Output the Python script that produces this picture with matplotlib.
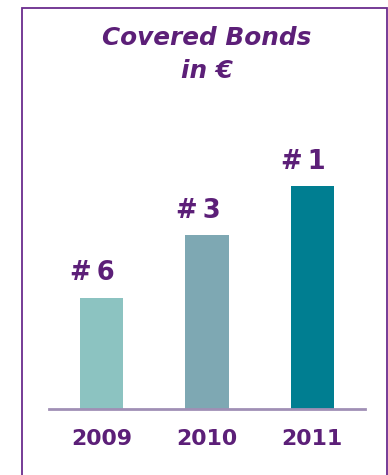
#!/usr/bin/env python3

import matplotlib
matplotlib.use("Agg")
import matplotlib.pyplot as plt
from matplotlib.patches import Rectangle

years = ["2009", "2010", "2011"]
volume = [2.5, 3.9, 5.0]
ranks = ["#\u20096", "#\u20093", "#\u20091"]
bar_colors = ["#8cc3c1", "#7ea8b3", "#007e91"]

purple = "#5c1f78"

W, H = 388, 475
fig = plt.figure(figsize=(W / 100, H / 100), dpi=100)

# frame round the panel (open at the bottom)
fig.patches.append(Rectangle((22 / W, -0.05), (387 - 22) / W, 1.05 - 8 / H,
                             transform=fig.transFigure, fill=False,
                             edgecolor="#6b2c8e", linewidth=1.3))

fig.text(207 / W, 1 - 45 / H, "Covered Bonds", ha="center", va="baseline",
         fontsize=17.8, fontweight="bold", fontstyle="italic", color=purple)
fig.text(207 / W, 1 - 78 / H, "in €", ha="center", va="baseline",
         fontsize=17.8, fontweight="bold", fontstyle="italic", color=purple)

ax = fig.add_axes([49 / W, 1 - 409 / H, (365 - 49) / W, 300 / H])
x = range(len(years))
bars = ax.bar(x, volume, width=0.41, color=bar_colors)
ax.set_xlim(-0.5, 2.5)
ax.set_ylim(0, 300 / 44.6)

for b, r in zip(bars, ranks):
    ax.annotate(r, (b.get_x() + b.get_width() / 2, b.get_height()),
                xytext=(-9, 17), textcoords="offset pixels",
                ha="center", va="baseline", fontsize=18.5,
                fontweight="bold", color=purple)

for s in ["top", "right", "left"]:
    ax.spines[s].set_visible(False)
ax.spines["bottom"].set_color("#a08fb5")
ax.spines["bottom"].set_linewidth(2)
ax.set_yticks([])
ax.set_xticks(list(x))
ax.set_xticklabels(years, fontsize=15.8, fontweight="bold", color=purple)
ax.tick_params(axis="x", length=0, pad=14.5)

fig.savefig("out.png", dpi=100)
